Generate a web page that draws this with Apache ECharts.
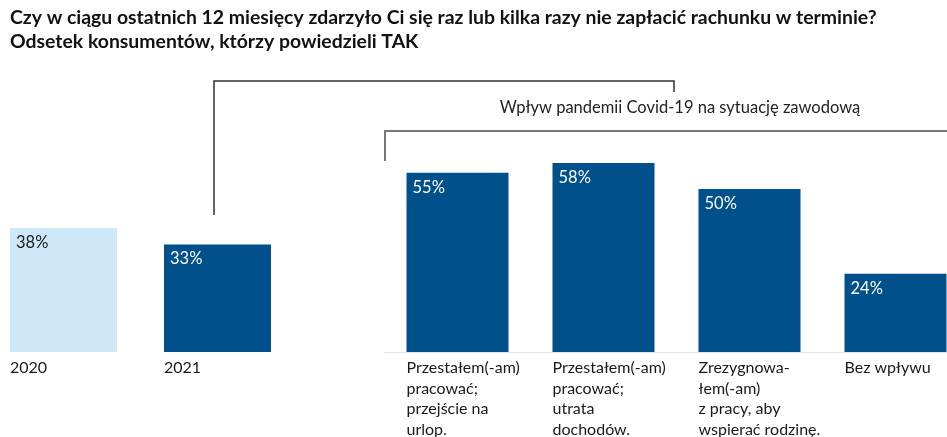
<!DOCTYPE html>
<html>
<head>
<meta charset="utf-8">
<script src="https://cdn.jsdelivr.net/npm/echarts@6/dist/echarts.min.js"></script>
<style>
html,body{margin:0;padding:0;background:#fff;}
#main{width:947px;height:437px;}
</style>
</head>
<body>
<div id="main"></div>
<script>
// dane
var years = ['2020', '2021'];
var yearValues = [38, 33];
var impactCategories = [
    'Przestałem(-am)\npracować;\nprzejście na\nurlop.',
    'Przestałem(-am)\npracować;\nutrata\ndochodów.',
    'Zrezygnowa-\nłem(-am)\nz pracy, aby\nwspierać rodzinę.',
    'Bez wpływu'
];
var impactValues = [55, 58, 50, 24];

var DARK = '#00508c';
var LIGHT = '#cfe8f8';
var FONT = 'Lato';

var myChart = echarts.init(document.getElementById('main'));

function catAxis(idx, data, padLeft, showLine) {
    return {
        type: 'category',
        gridIndex: idx,
        data: data,
        axisTick: {show: false},
        axisLine: {show: showLine, lineStyle: {color: '#e4e4e4', width: 1}},
        axisLabel: {
            align: 'left',
            verticalAlign: 'top',
            margin: 6,
            padding: [0, 0, 0, padLeft],
            color: '#1a1a1a',
            fontFamily: FONT,
            fontSize: 16,
            lineHeight: 20.5,
            interval: 0
        }
    };
}

function valAxis(idx) {
    return {type: 'value', gridIndex: idx, min: 0, max: 100, show: false};
}

function valueLabel(color) {
    return {
        show: true,
        position: 'insideTopLeft',
        distance: 6,
        color: color,
        fontFamily: FONT,
        fontSize: 16.5,
        formatter: '{c}%'
    };
}

myChart.setOption({
    animation: false,
    grid: [
        {left: -13.5, width: 308, top: 26, bottom: 85, outerBoundsMode: 'none'},
        {left: 384.5, width: 584, top: 26, bottom: 85, outerBoundsMode: 'none'}
    ],
    xAxis: [catAxis(0, years, -53.5, false), catAxis(1, impactCategories, -51, true)],
    yAxis: [valAxis(0), valAxis(1)],
    series: [
        {
            type: 'bar',
            xAxisIndex: 0,
            yAxisIndex: 0,
            barWidth: 107,
            data: yearValues.map(function (v, i) {
                return {
                    value: v,
                    itemStyle: {color: i === 0 ? LIGHT : DARK},
                    label: valueLabel(i === 0 ? '#1a1a1a' : '#fff')
                };
            })
        },
        {
            type: 'bar',
            xAxisIndex: 1,
            yAxisIndex: 1,
            barWidth: 102,
            itemStyle: {color: DARK},
            label: valueLabel('#fff'),
            data: impactValues
        }
    ],
    graphic: [
        {
            type: 'text',
            left: 10,
            top: 6,
            style: {
                text: 'Czy w ciągu ostatnich 12 miesięcy zdarzyło Ci się raz lub kilka razy nie zapłacić rachunku w terminie?\nOdsetek konsumentów, którzy powiedzieli TAK',
                font: 'bold 19.4px Lato',
                lineHeight: 24,
                fill: '#111'
            }
        },
        {
            type: 'text',
            x: 680,
            y: 108,
            style: {
                text: 'Wpływ pandemii Covid-19 na sytuację zawodową',
                font: '16.5px Lato',
                fill: '#222',
                align: 'center',
                verticalAlign: 'middle'
            }
        },
        {
            type: 'polyline',
            shape: {points: [[214, 215], [214, 81], [674, 81], [674, 92]]},
            style: {stroke: '#333', lineWidth: 1.5, fill: null}
        },
        {
            type: 'polyline',
            shape: {points: [[385, 161], [385, 131], [947, 131]]},
            style: {stroke: '#777', lineWidth: 2, fill: null}
        }
    ]
});
</script>
</body>
</html>
